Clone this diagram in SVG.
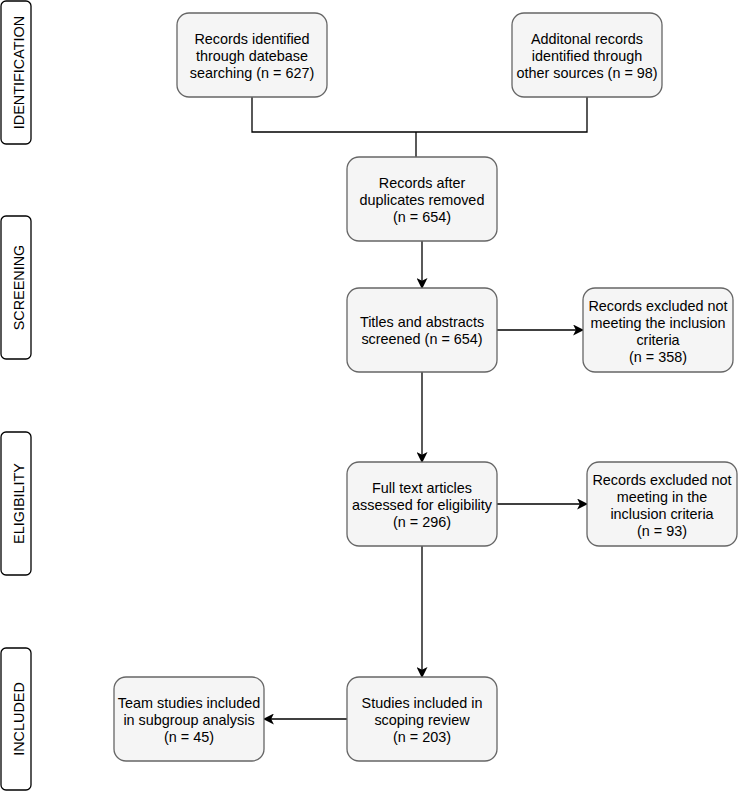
<svg xmlns="http://www.w3.org/2000/svg" width="738" height="792" viewBox="0 0 738 792">
<style>
.node rect{fill:#f5f5f5;stroke:#666666;stroke-width:1.3}
.lab rect{fill:#ffffff;stroke:#000000;stroke-width:1.3}
text{font-family:"Liberation Sans",Arial,Helvetica,sans-serif;font-size:14.4px;fill:#000000;text-anchor:middle}
.conn path{fill:none;stroke:#000000;stroke-width:1.3}
</style>
<defs>
<marker id="arr" viewBox="0 0 10 10" refX="9" refY="5" markerWidth="11" markerHeight="11" markerUnits="userSpaceOnUse" orient="auto">
<path d="M0,0 L10,5 L0,10 L2.5,5 Z" fill="#000000"/>
</marker>
</defs>
<g id="lab-identification" class="lab"><rect x="1" y="1" width="30" height="143" rx="5"/><text transform="translate(23.5,72.5) rotate(-90)">IDENTIFICATION</text></g>
<g id="lab-screening" class="lab"><rect x="1" y="216" width="30" height="143" rx="5"/><text transform="translate(23.5,287.5) rotate(-90)">SCREENING</text></g>
<g id="lab-eligibility" class="lab"><rect x="1" y="432" width="30" height="143" rx="5"/><text transform="translate(23.5,503.5) rotate(-90)">ELIGIBILITY</text></g>
<g id="lab-included" class="lab"><rect x="1" y="648" width="30" height="142" rx="5"/><text transform="translate(23.5,719) rotate(-90)">INCLUDED</text></g>
<g class="conn" id="connectors">
<path d="M252,97 V132 H587 V97"/>
<path d="M416,132 V157"/>
<path d="M422,241 V288" marker-end="url(#arr)"/>
<path d="M497,330 H583" marker-end="url(#arr)"/>
<path d="M422,372 V462" marker-end="url(#arr)"/>
<path d="M497,504 H587" marker-end="url(#arr)"/>
<path d="M422,546 V677" marker-end="url(#arr)"/>
<path d="M347,719 H264" marker-end="url(#arr)"/>
</g>
<g id="n1" class="node"><rect x="177" y="13" width="150" height="84" rx="12"/><text x="252" y="44">Records identified</text><text x="252" y="61">through datebase</text><text x="252" y="78">searching (n = 627)</text></g>
<g id="n2" class="node"><rect x="512" y="13" width="150" height="84" rx="12"/><text x="587" y="44">Additonal records</text><text x="587" y="61">identified through</text><text x="587" y="78">other sources (n = 98)</text></g>
<g id="n3" class="node"><rect x="347" y="157" width="150" height="84" rx="12"/><text x="422" y="188">Records after</text><text x="422" y="205">duplicates removed</text><text x="422" y="222">(n = 654)</text></g>
<g id="n4" class="node"><rect x="347" y="288" width="150" height="84" rx="12"/><text x="422" y="327">Titles and abstracts</text><text x="422" y="344">screened (n = 654)</text></g>
<g id="n5" class="node"><rect x="583" y="288" width="150" height="84" rx="12"/><text x="658" y="311">Records excluded not</text><text x="658" y="328">meeting the inclusion</text><text x="658" y="345">criteria</text><text x="658" y="362">(n = 358)</text></g>
<g id="n6" class="node"><rect x="347" y="462" width="150" height="84" rx="12"/><text x="422" y="493">Full text articles</text><text x="422" y="510">assessed for eligibility</text><text x="422" y="527">(n = 296)</text></g>
<g id="n7" class="node"><rect x="587" y="462" width="150" height="84" rx="12"/><text x="662" y="485">Records excluded not</text><text x="662" y="502">meeting in the</text><text x="662" y="519">inclusion criteria</text><text x="662" y="536">(n = 93)</text></g>
<g id="n8" class="node"><rect x="347" y="677" width="150" height="84" rx="12"/><text x="422" y="708">Studies included in</text><text x="422" y="725">scoping review</text><text x="422" y="742">(n = 203)</text></g>
<g id="n9" class="node"><rect x="114" y="677" width="150" height="84" rx="12"/><text x="189" y="708">Team studies included</text><text x="189" y="725">in subgroup analysis</text><text x="189" y="742">(n = 45)</text></g>
</svg>
